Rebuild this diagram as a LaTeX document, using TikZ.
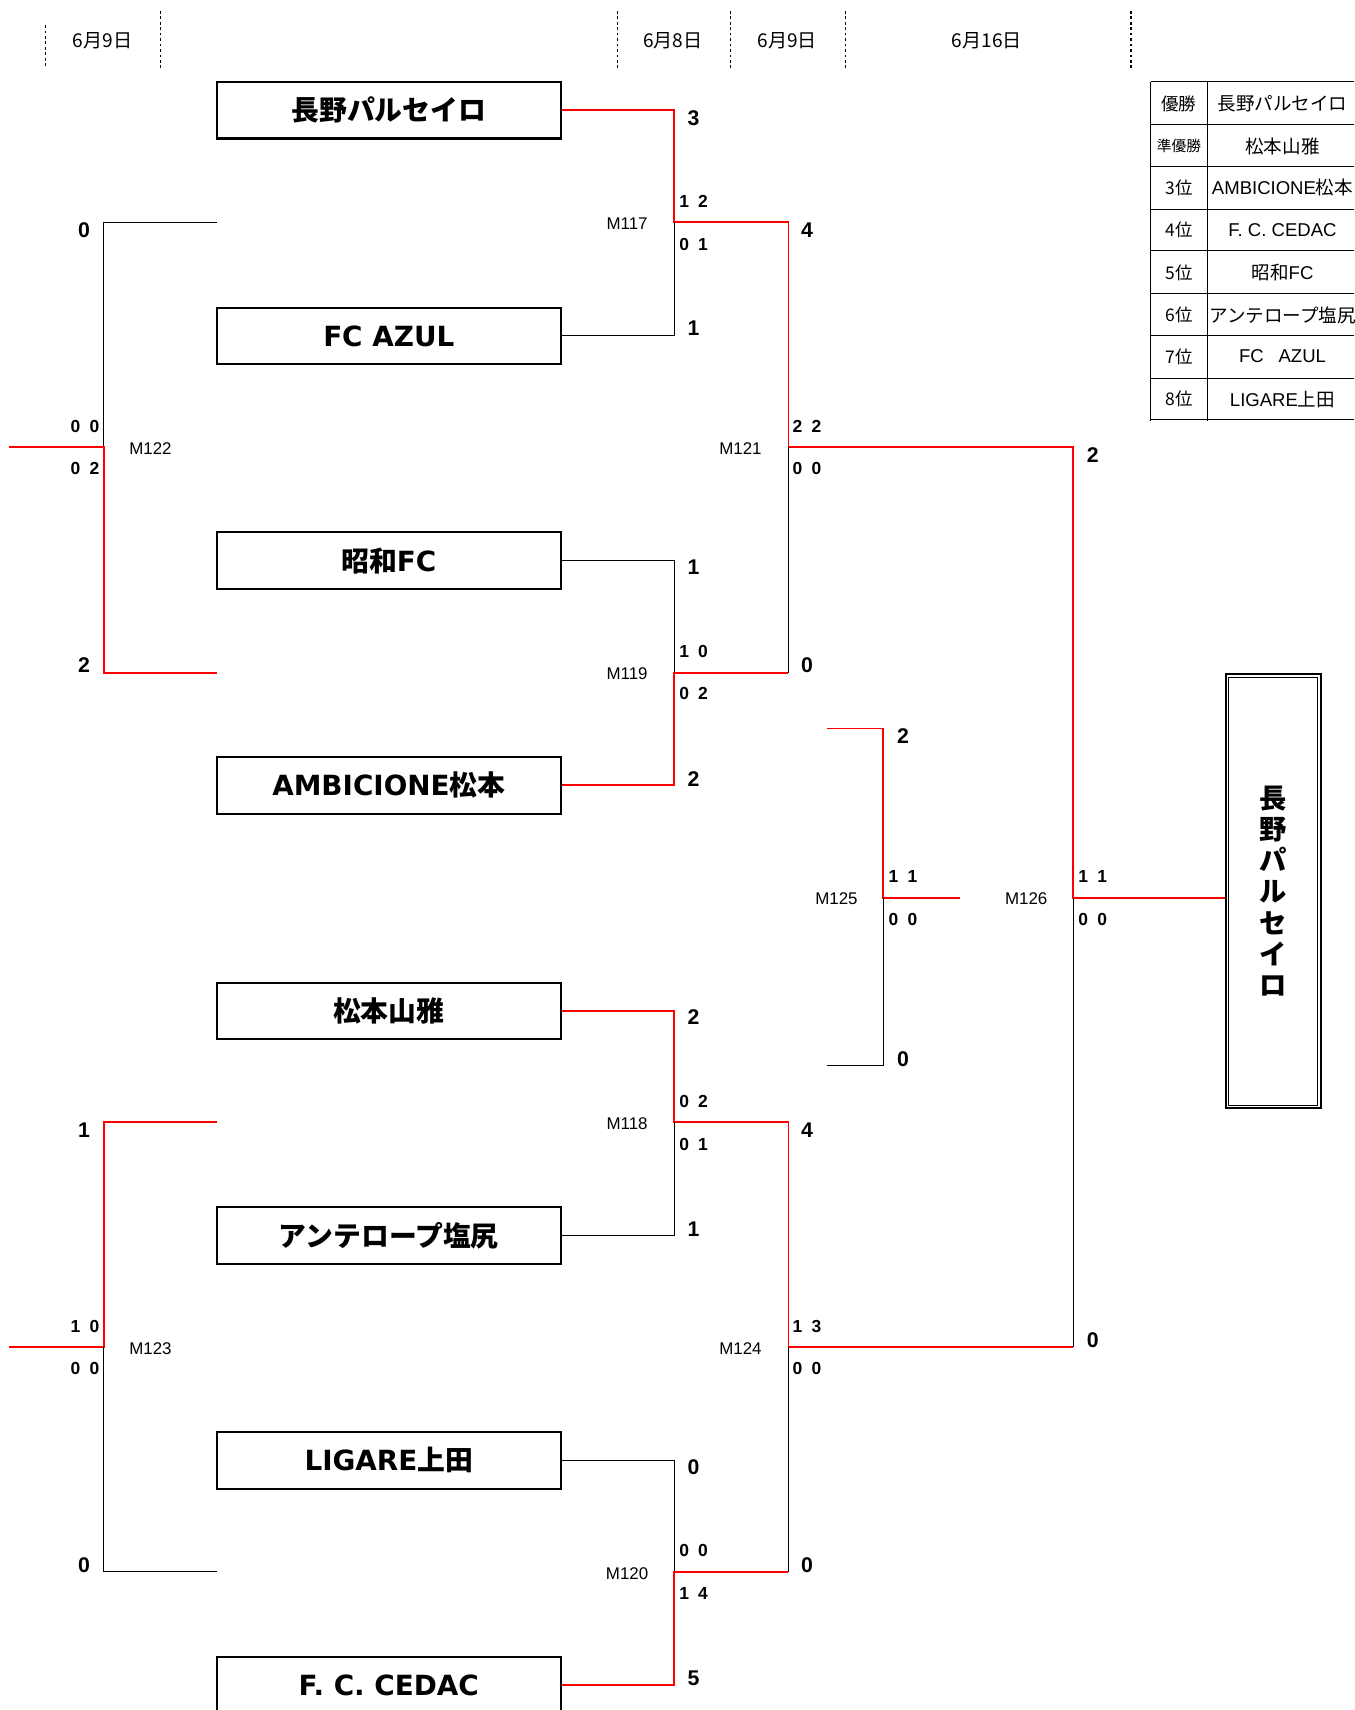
\documentclass[tikz,border=0pt]{standalone}
\usepackage{fontspec}
\setmainfont{Liberation Sans}
\newfontfamily\jp{Noto Sans CJK JP}
\newfontfamily\wide{DejaVu Sans}
\usetikzlibrary{calc}
\newcommand\duo[2]{#1\hspace{8.5pt}#2}

\begin{document}
\begin{tikzpicture}[x=1pt,y=-1pt,
      team/.style={draw,line width=1.9pt,minimum width=315pt,minimum height=52pt,
        inner sep=0pt,font=\wide\bfseries\fontsize{25.5}{25.5}\selectfont},
      win/.style={draw=red,line width=1.8pt},
      lose/.style={draw=black,line width=0.8pt},
      sep/.style={dash pattern=on 2.5pt off 2.5pt,line width=1.2pt},
      score/.style={font=\bfseries\fontsize{19.5}{19.5}\selectfont},
      pair/.style={font=\bfseries\fontsize{16}{16}\selectfont},
      match/.style={font=\fontsize{15.5}{15.5}\selectfont},
      day/.style={font=\jp\fontsize{17.5}{17.5}\selectfont},
      cell/.style={font=\fontsize{17}{17}\selectfont}]
      \useasboundingbox[fill=white] (0,0) rectangle (1242,1568);

      % dates
      \draw[sep] (42,23) -- (42,62);
      \foreach \x in {147,566,670,775,1037}
        \draw[sep] (\x,10) -- (\x,62);
      \node[day] at (94,37) {6月9日};
      \node[day] at (617,37) {6月8日};
      \node[day] at (722,37) {6月9日};
      \node[day] at (905,37) {6月16日};

      % teams
      \node[team] (nagano) at (356.5,101) { {\jp 長野パルセイロ} };
      \node[team] (azul) at (356.5,308) { FC AZUL };
      \node[team] (showa) at (356.5,514) { {\jp 昭和}FC };
      \node[team] (ambi) at (356.5,720) { AMBICIONE{\jp 松本} };
      \node[team] (yamamasa) at (356.5,927) { {\jp 松本山雅} };
      \node[team] (antelope) at (356.5,1133) { {\jp アンテロープ塩尻} };
      \node[team] (ligare) at (356.5,1339) { LIGARE{\jp 上田} };
      \node[team] (cedac) at (356.5,1545) { F. C. CEDAC };

      \node[draw,line width=1.6pt,minimum width=87pt,
        minimum height=398pt,inner sep=0pt,align=center,
        font=\jp\bfseries\fontsize{25}{28.5}\selectfont] (champ) at (1167.5,817)
        {長\\野\\パ\\ル\\セ\\イ\\ロ};
      \draw[line width=0.7pt] ($(champ.south west)+(3.5,-3.5)$)
        rectangle ($(champ.north east)+(-3.5,3.5)$);

      % match points
      \coordinate (m117) at (618,204);
      \coordinate (m119) at (618,617);
      \coordinate (m118) at (618,1029);
      \coordinate (m120) at (618,1441);
      \coordinate (m121) at (723,410);
      \coordinate (m124) at (723,1235);
      \coordinate (m125) at (810,823);
      \coordinate (m126) at (984,823);
      \coordinate (m122) at (95,410);
      \coordinate (m123) at (95,1235);
      \coordinate (in122a) at (199,204);
      \coordinate (in122b) at (199,617);
      \coordinate (in123a) at (199,1029);
      \coordinate (in123b) at (199,1441);
      \coordinate (out122) at (8,410);
      \coordinate (out123) at (8,1235);
      \coordinate (in125a) at (758,668);
      \coordinate (in125b) at (758,977);
      \coordinate (out125) at (880,823);

      % bracket
      \draw[win] (nagano.east) -| (m117) -| (m121) -| (m126) -- (m126 -| champ.west);
      \draw[lose] (azul.east) -| (m117);
      \draw[lose] (showa.east) -| (m119);
      \draw[win] (ambi.east) -| (m119) -- (m119 -| m121);
      \draw[lose] (m119 -| m121) -- (m121);
      \draw[win] (yamamasa.east) -| (m118) -| (m124) -- (m124 -| m126);
      \draw[lose] (m124 -| m126) -- (m126);
      \draw[lose] (antelope.east) -| (m118);
      \draw[lose] (ligare.east) -| (m120);
      \draw[win] (cedac.east) -| (m120) -- (m120 -| m124);
      \draw[lose] (m120 -| m124) -- (m124);
      \draw[lose] (in122a) -| (m122);
      \draw[win] (in122b) -| (m122) -- (out122);
      \draw[win] (in123a) -| (m123) -- (out123);
      \draw[lose] (in123b) -| (m123);
      \draw[win] (in125a) -| (m125) -- (out125);
      \draw[lose] (in125b) -| (m125);

      % scores
      \node[score] at (636,108) {3};
      \node[score] at (636,301) {1};
      \node[pair] at (636,185) {\duo12};
      \node[pair] at (636,224) {\duo01};
      \node[match] at (575,205) {M117};

      \node[score] at (636,520) {1};
      \node[score] at (636,714) {2};
      \node[pair] at (636,597) {\duo10};
      \node[pair] at (636,636) {\duo02};
      \node[match] at (575,618) {M119};

      \node[score] at (740,211) {4};
      \node[score] at (740,610) {0};
      \node[pair] at (740,391) {\duo22};
      \node[pair] at (740,430) {\duo00};
      \node[match] at (679,411) {M121};

      \node[score] at (77,211) {0};
      \node[score] at (77,610) {2};
      \node[pair] at (78,391) {\duo00};
      \node[pair] at (78,430) {\duo02};
      \node[match] at (138,411) {M122};

      \node[score] at (636,933) {2};
      \node[score] at (636,1127) {1};
      \node[pair] at (636,1010) {\duo02};
      \node[pair] at (636,1049) {\duo01};
      \node[match] at (575,1030) {M118};

      \node[score] at (636,1345) {0};
      \node[score] at (636,1539) {5};
      \node[pair] at (636,1422) {\duo00};
      \node[pair] at (636,1461) {\duo14};
      \node[match] at (575,1443) {M120};

      \node[score] at (740,1036) {4};
      \node[score] at (740,1435) {0};
      \node[pair] at (740,1216) {\duo13};
      \node[pair] at (740,1255) {\duo00};
      \node[match] at (679,1237) {M124};

      \node[score] at (77,1036) {1};
      \node[score] at (77,1435) {0};
      \node[pair] at (78,1216) {\duo10};
      \node[pair] at (78,1255) {\duo00};
      \node[match] at (138,1237) {M123};

      \node[score] at (828,675) {2};
      \node[score] at (828,971) {0};
      \node[pair] at (828,804) {\duo11};
      \node[pair] at (828,843) {\duo00};
      \node[match] at (767,824) {M125};

      \node[score] at (1002,417) {2};
      \node[score] at (1002,1229) {0};
      \node[pair] at (1002,804) {\duo11};
      \node[pair] at (1002,843) {\duo00};
      \node[match] at (941,824) {M126};

      % ranking
      \foreach \y in {75,114,153,192,230,269,308,347,385}
        \draw[lose] (1055,\y) -- (1242,\y);
      \draw[lose] (1055,75) -- (1055,386) (1107,75) -- (1107,386);
      \foreach \y/\a/\b in {95/{優勝}/{\jp 長野パルセイロ},
          134/{\fontsize{13.5}{13.5}\selectfont 準優勝}/{\jp 松本山雅},
          172/{3位}/{AMBICIONE{\jp 松本}},
          211/{4位}/{F.\ C.\ CEDAC},
          250/{5位}/{{\jp 昭和}FC},
          289/{6位}/{\jp アンテロープ塩尻},
          327/{7位}/{FC\hspace{0.8em}AZUL},
          366/{8位}/{LIGARE{\jp 上田}}} {
        \node[cell,font=\jp\fontsize{16}{16}\selectfont] at (1081,\y) {\a};
        \node[cell] at (1176,\y) {\b};
      }
\end{tikzpicture}
\end{document}
